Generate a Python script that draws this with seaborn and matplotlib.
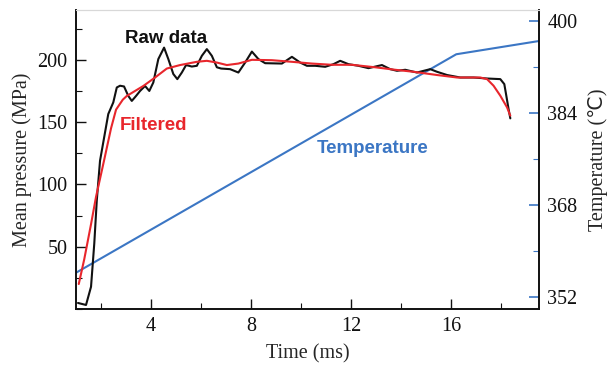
import numpy as np
import pandas as pd
import matplotlib
matplotlib.use("Agg")
import matplotlib.pyplot as plt
from matplotlib.ticker import MultipleLocator
import seaborn as sns

# Raw pressure trace (time in ms, pressure in MPa)
raw_time = [1.08, 1.40, 1.60, 1.73, 1.83, 1.96, 2.29, 2.49, 2.63, 2.76, 2.92, 3.09,
            3.23, 3.40, 3.56, 3.76, 3.93, 4.09, 4.29, 4.52, 4.69, 4.89, 5.05, 5.23,
            5.40, 5.63, 5.83, 6.03, 6.23, 6.43, 6.63, 6.80, 7.16, 7.49, 7.76, 8.03,
            8.29, 8.56, 9.23, 9.63, 9.96, 10.23, 10.56, 10.96, 11.29, 11.56, 11.89,
            12.29, 12.69, 13.23, 13.56, 13.83, 14.16, 14.63, 15.16, 15.43, 15.83,
            16.36, 16.89, 17.43, 17.96, 18.12, 18.20, 18.29, 18.36]
raw_pressure = [4.8, 3.2, 17.8, 52.5, 87, 119, 156.5, 165.8, 177.8, 179.2, 178.6, 171,
                167, 171, 175, 179, 175, 181.8, 200.6, 209.8, 200.6, 188.6, 184.5, 189.8,
                195.8, 194.6, 195.2, 203.2, 208.6, 203.2, 194, 193, 192.5, 189.8, 197.8, 206.6,
                200.6, 197.3, 197, 202.4, 197.8, 195.2, 195.2, 194.4, 196.5, 199.2, 196.5,
                195.2, 193.3, 195.8, 192.5, 191.2, 192, 189.8, 192.5, 190.4, 187.8,
                185.8, 185.8, 185, 184.5, 180.5, 171.2, 160.5, 153]

# Filtered pressure
filt_time = [1.11, 1.33, 1.60, 1.80, 2.13, 2.40, 2.60, 2.87, 3.03, 3.69, 4.16, 4.63,
             5.16, 5.83, 6.23, 6.63, 7.03, 7.49, 8.03, 8.83, 9.63, 10.43, 11.23, 12.03,
             12.96, 13.76, 14.49, 15.43, 16.23, 17.16, 17.43, 17.69, 17.96, 18.23, 18.36]
filt_pressure = [20, 40, 68, 90, 120, 145, 160, 168, 171, 179, 185.8, 193,
                 195.8, 198.4, 199.2, 197.8, 195.8, 197, 200, 199.7, 198.4, 197, 196, 196,
                 194, 192, 190.4, 187.8, 185.8, 185.8, 184.5, 179.2, 171.2, 161.8, 155.2]

# Temperature (deg C)
temp_time = [1.0, 16.2, 19.5]
temp_value = [356.3, 394.3, 396.6]

x_ticks = [4, 8, 12, 16]
left_ticks = [50, 100, 150, 200]
right_ticks = [352, 368, 384, 400]

BLACK = "#111111"
RED = "#e8262c"
BLUE = "#3b76c4"

sns.set_style("ticks")
plt.rcParams["font.family"] = ["Liberation Serif", "DejaVu Sans"]

fig, ax = plt.subplots(figsize=(6.13, 3.70), dpi=100)
fig.subplots_adjust(left=0.124, right=0.879, top=0.973, bottom=0.165)
ax2 = ax.twinx()

raw = pd.DataFrame({"t": raw_time, "p": raw_pressure})
filt = pd.DataFrame({"t": filt_time, "p": filt_pressure})
temp = pd.DataFrame({"t": temp_time, "T": temp_value})

sns.lineplot(data=temp, x="t", y="T", ax=ax2, color=BLUE, lw=1.5, sort=False, estimator=None)
sns.lineplot(data=raw, x="t", y="p", ax=ax, color=BLACK, lw=1.5, sort=False, estimator=None)
sns.lineplot(data=filt, x="t", y="p", ax=ax, color=RED, lw=1.5, sort=False, estimator=None)

# pressure lines on top of the temperature line
ax.set_zorder(ax2.get_zorder() + 1)
ax.patch.set_visible(False)

ax.set_xlim(1.0, 19.5)
ax.set_ylim(0, 240)
ax2.set_ylim(350, 402)

ax.set_xticks(x_ticks)
ax.set_yticks(left_ticks)
ax2.set_yticks(right_ticks)
ax.xaxis.set_minor_locator(MultipleLocator(2))
ax.yaxis.set_minor_locator(MultipleLocator(25))
ax2.yaxis.set_minor_locator(MultipleLocator(8))

ax.tick_params(axis="both", which="major", direction="in", length=7, width=1.0,
               labelsize=14.5, colors=BLACK, pad=6)
ax.tick_params(axis="both", which="minor", direction="in", length=4, width=0.8, colors=BLACK)
ax2.tick_params(axis="y", which="major", direction="in", length=7, width=1.2,
                color=BLUE, labelcolor=BLACK, labelsize=14.5, pad=6)
ax2.tick_params(axis="y", which="minor", direction="in", length=4, width=0.8, color=BLUE)

ax.set_xlabel("Time (ms)", fontsize=14.5, labelpad=6)
ax.set_ylabel("Mean pressure (MPa)", fontsize=14.5, labelpad=4)
ax2.set_ylabel("Temperature (℃)", fontsize=14.5, labelpad=8)

for a in (ax, ax2):
    a.spines["top"].set_color("#d8d8d8")
    a.spines["top"].set_linewidth(0.8)
    for s in ("left", "bottom", "right"):
        a.spines[s].set_color(BLACK)
        a.spines[s].set_linewidth(1.2)

lab = dict(fontsize=13.5, fontweight="bold", family=["Liberation Sans", "DejaVu Sans"], va="center")
ax.text(2.96, 217, "Raw data", color=BLACK, **lab)
ax.text(2.76, 147, "Filtered", color=RED, **lab)
ax.text(10.64, 129, "Temperature", color=BLUE, **lab)

fig.savefig("out.png", dpi=100)
plt.close(fig)
